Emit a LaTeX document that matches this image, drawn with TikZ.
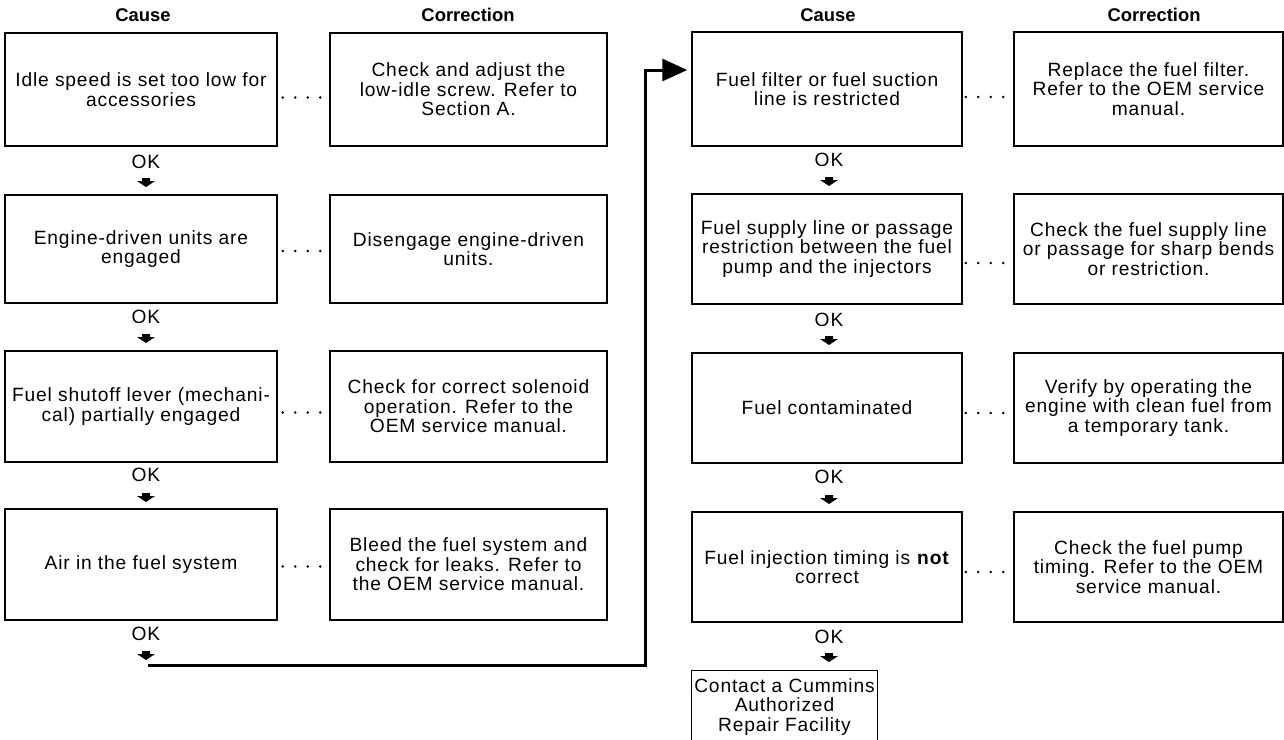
\documentclass[tikz,border=0pt]{standalone}
\usepackage{fontspec}
\setmainfont{Liberation Sans}
\newfontfamily\bodyfont{Liberation Sans}[LetterSpace=4.4]
\usetikzlibrary{arrows.meta}

\begin{document}
\begin{tikzpicture}[x=0.5pt,y=-0.5pt,
  box/.style={draw, line width=0.75pt, rectangle, align=center, inner sep=1pt,
    font=\bodyfont\fontsize{9.6}{9.8}\selectfont},
  lcause/.style={box, minimum width=136pt},
  lcorr/.style={box, minimum width=138.5pt},
  rcause/.style={box, minimum width=135pt},
  rcorr/.style={box, minimum width=134.5pt},
  head/.style={font=\bfseries\fontsize{9.2}{10}\selectfont, inner sep=0pt},
  oklabel/.style={font=\bodyfont\fontsize{9.6}{10}\selectfont, inner sep=0pt},
  dotconn/.style={line width=1.3pt, line cap=round, dash pattern=on 0pt off 6.25pt},
  bigconn/.style={line width=1.5pt, -{Triangle[length=12.5pt,width=11pt]}},
  downhead/.pic={\fill (-4,-4) -- (4,-4) -- (4,-1) -- (9,-1) -- (0,5) -- (-9,-1) -- (-4,-1) -- cycle;}
]
\useasboundingbox (0,0) rectangle (1284,739);

% column headings
\node[head] (hc1) at (143,15) {Cause};
\node[head] (hr1) at (468,15) {Correction};
\node[head] (hc2) at (828,15) {Cause};
\node[head] (hr2) at (1154,15) {Correction};

% left half: causes
\node[lcause, minimum height=56.5pt] (lc1) at (141,89.5) {Idle speed is set too low for\\accessories};
\node[lcause, minimum height=54pt]   (lc2) at (141,249)  {Engine-driven units are\\engaged};
\node[lcause, minimum height=55.5pt] (lc3) at (141,406.5) {Fuel shutoff lever (mechani-\\cal) partially engaged};
\node[lcause, minimum height=55.5pt] (lc4) at (141,564.5) {Air in the fuel system};

% left half: corrections
\node[lcorr, minimum height=56.5pt] (lr1) at (468.5,89.5) {Check and adjust the\\low-idle screw. Refer to\\Section A.};
\node[lcorr, minimum height=54pt]   (lr2) at (468.5,249)  {Disengage engine-driven\\units.};
\node[lcorr, minimum height=55.5pt] (lr3) at (468.5,406.5) {Check for correct solenoid\\operation. Refer to the\\OEM service manual.};
\node[lcorr, minimum height=55.5pt] (lr4) at (468.5,564.5) {Bleed the fuel system and\\check for leaks. Refer to\\the OEM service manual.};

% right half: causes
\node[rcause, minimum height=57pt] (rc1) at (827,89)  {Fuel filter or fuel suction\\line is restricted};
\node[rcause, minimum height=55pt] (rc2) at (827,249) {Fuel supply line or passage\\restriction between the fuel\\pump and the injectors};
\node[rcause, minimum height=55pt] (rc3) at (827,408) {Fuel contaminated};
\node[rcause, minimum height=55pt] (rc4) at (827,567) {Fuel injection timing is \textbf{not}\\correct};

% right half: corrections
\node[rcorr, minimum height=57pt] (rr1) at (1148.5,89)  {Replace the fuel filter.\\Refer to the OEM service\\manual.};
\node[rcorr, minimum height=55pt] (rr2) at (1148.5,249) {Check the fuel supply line\\or passage for sharp bends\\or restriction.};
\node[rcorr, minimum height=55pt] (rr3) at (1148.5,408) {Verify by operating the\\engine with clean fuel from\\a temporary tank.};
\node[rcorr, minimum height=55pt] (rr4) at (1148.5,567) {Check the fuel pump\\timing. Refer to the OEM\\service manual.};

% final step, open at the bottom edge
\node[box, draw=none, minimum width=91.5pt, minimum height=34pt] (contact) at (784.5,707)
  {Contact a Cummins\\Authorized\\Repair Facility};
\draw[line width=0.75pt] ([yshift=-3pt]contact.south west) -- ([yshift=1pt]contact.north west)
  -- ([yshift=1pt]contact.north east) -- ([yshift=-3pt]contact.south east);

% OK labels and step markers
\foreach \n/\x/\yok/\ya in {l1/146/162/182, l2/146/317/338, l3/146/475/497, l4/146/634/655,
                              r1/829/160/181, r2/829/320/340, r3/829/477/499, r4/829/637/657} {
  \node[oklabel] (ok\n) at (\x,\yok) {OK};
  \coordinate (mk\n) at (\x,\ya);
  \pic at (mk\n) {downhead};
}

% dotted links cause -> correction
\draw[dotconn] ([shift={(5,8)}]lc1.east) -- ([shift={(-8,8)}]lr1.west);
\draw[dotconn] ([shift={(5,2)}]lc2.east) -- ([shift={(-8,2)}]lr2.west);
\draw[dotconn] ([shift={(5,6)}]lc3.east) -- ([shift={(-8,6)}]lr3.west);
\draw[dotconn] ([shift={(5,2)}]lc4.east) -- ([shift={(-8,2)}]lr4.west);
\draw[dotconn] ([shift={(3,8)}]rc1.east) -- ([shift={(-8,8)}]rr1.west);
\draw[dotconn] ([shift={(3,14)}]rc2.east) -- ([shift={(-8,14)}]rr2.west);
\draw[dotconn] ([shift={(3,5)}]rc3.east) -- ([shift={(-8,5)}]rr3.west);
\draw[dotconn] ([shift={(3,5)}]rc4.east) -- ([shift={(-8,5)}]rr4.west);

% continuation from the left column to the right column
\coordinate (lstart) at ([shift={(2,10)}]mkl4);
\coordinate (bend) at (645,400);
\draw[bigconn] (lstart) -| (bend) |- ([shift={(-4,-19)}]rc1.west);
\end{tikzpicture}
\end{document}
